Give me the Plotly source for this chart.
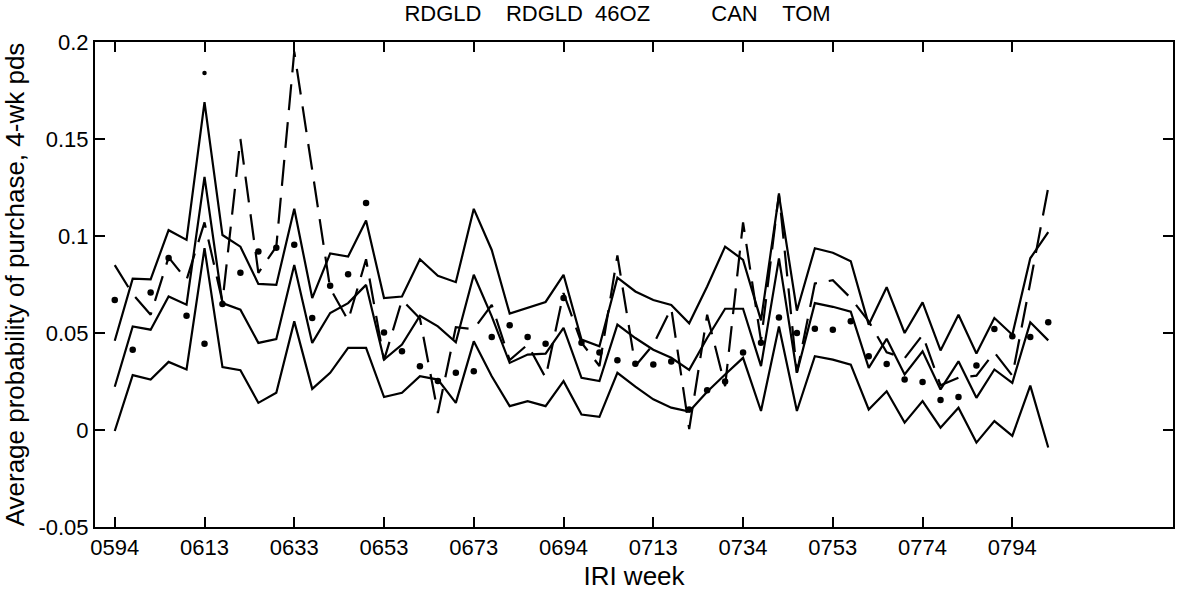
import plotly.graph_objects as go

# x positions: 4-week periods indexed 0..52
period_index = list(range(53))

tick_positions = [0, 5, 10, 15, 20, 25, 30, 35, 40, 45, 50]
tick_labels = ["0594", "0613", "0633", "0653", "0673", "0694",
               "0713", "0734", "0753", "0774", "0794"]

upper_band = [0.046, 0.078, 0.0777, 0.103, 0.098, 0.169, 0.1005, 0.0945, 0.0753, 0.0748,
              0.114, 0.068, 0.091, 0.0894, 0.108, 0.068, 0.0688, 0.088, 0.0795, 0.0762,
              0.114, 0.0928, 0.060, 0.063, 0.066, 0.080, 0.0466, 0.0432, 0.0785, 0.0714,
              0.067, 0.0645, 0.055, 0.074, 0.0945, 0.0877, 0.0565, 0.121, 0.0615, 0.0937,
              0.0914, 0.087, 0.0543, 0.0736, 0.050, 0.0658, 0.041, 0.0594, 0.0394, 0.0577,
              0.0491, 0.0885, 0.102]

middle_line = [0.0223, 0.0534, 0.0517, 0.0688, 0.0646, 0.1305, 0.0654, 0.062, 0.0449, 0.0469,
               0.085, 0.0449, 0.0603, 0.0654, 0.0748, 0.0363, 0.044, 0.0589, 0.0534, 0.0452,
               0.080, 0.0586, 0.0346, 0.0389, 0.0394, 0.0526, 0.0269, 0.0252, 0.0543, 0.0474,
               0.0414, 0.0372, 0.031, 0.0474, 0.0625, 0.0625, 0.0329, 0.0885, 0.0295, 0.0654,
               0.0635, 0.061, 0.032, 0.047, 0.0286, 0.0406, 0.0209, 0.0354, 0.0166, 0.0312,
               0.0243, 0.0555, 0.0462]

lower_band = [-0.0005, 0.0283, 0.026, 0.0351, 0.0312, 0.0937, 0.0324, 0.0308, 0.014, 0.0192,
              0.056, 0.0212, 0.0295, 0.0423, 0.0423, 0.017, 0.0192, 0.0277, 0.026, 0.014,
              0.0457, 0.0277, 0.0123, 0.0149, 0.0123, 0.0252, 0.008, 0.0068, 0.0295, 0.0223,
              0.0158, 0.0115, 0.0095, 0.0197, 0.0286, 0.0372, 0.0098, 0.0534, 0.0098, 0.038,
              0.0363, 0.0337, 0.0106, 0.020, 0.0038, 0.0149, 0.0012, 0.0115, -0.0065, 0.0046,
              -0.003, 0.0229, -0.009]

dashed_series = [0.085, 0.070, 0.0594, 0.089, 0.0774, 0.107, 0.066, 0.150, 0.081, 0.0945,
                 0.195, 0.135, 0.073, 0.0565, 0.088, 0.036, 0.067, 0.0575, 0.0088, 0.053,
                 0.052, 0.0645, 0.036, 0.044, 0.027, 0.0706, 0.045, 0.033, 0.090, 0.033,
                 0.044, 0.0628, 0.0005, 0.0594, 0.0226, 0.107, 0.046, 0.122, 0.0295, 0.0755,
                 0.0772, 0.068, 0.056, 0.040, 0.037, 0.049, 0.023, 0.027, 0.028, 0.040,
                 0.028, 0.076, 0.125]

dot_series = [0.067, 0.0414, 0.0709, 0.0886, 0.0589, 0.0445, 0.065, 0.081, 0.092, 0.094,
              0.0955, 0.0577, 0.0743, 0.0803, 0.117, 0.0503, 0.0406, 0.0329, 0.0252, 0.0295,
              0.0303, 0.048, 0.054, 0.048, 0.0445, 0.068, 0.045, 0.040, 0.036, 0.0342,
              0.0337, 0.0353, 0.0106, 0.0205, 0.025, 0.040, 0.045, 0.058, 0.050, 0.0522,
              0.0517, 0.056, 0.038, 0.034, 0.026, 0.0247, 0.0154, 0.017, 0.0332, 0.052,
              0.0483, 0.048, 0.0556]

extra_dot_index = [5]
extra_dot_value = [0.184]

y_tick_values = [-0.05, 0, 0.05, 0.1, 0.15, 0.2]
y_tick_labels = ["-0.05", "0", "0.05", "0.1", "0.15", "0.2"]

title_text = ("RDGLD" + "\u00a0" * 4 + "RDGLD" + "\u00a0" * 2 + "46OZ" +
              "\u00a0" * 10 + "CAN" + "\u00a0" * 4 + "TOM")

FONT = "Liberation Sans, Arial, sans-serif"
FS = 22

fig = go.Figure()
for series in (upper_band, middle_line, lower_band):
    fig.add_trace(go.Scatter(x=period_index, y=series, mode="lines",
                             line=dict(color="black", width=2.2), showlegend=False))
fig.add_trace(go.Scatter(x=period_index, y=dashed_series, mode="lines",
                         line=dict(color="black", width=2.2, dash="26px,12px"), showlegend=False))
fig.add_trace(go.Scatter(x=period_index, y=dot_series, mode="markers",
                         marker=dict(color="black", size=6.5), showlegend=False))
fig.add_trace(go.Scatter(x=extra_dot_index, y=extra_dot_value, mode="markers",
                         marker=dict(color="black", size=4.5), showlegend=False))

fig.update_layout(
    width=1179, height=591,
    margin=dict(l=95, r=4, t=42, b=63),
    paper_bgcolor="white", plot_bgcolor="white",
    font=dict(family=FONT, size=FS, color="black"),
    title=dict(text=title_text, x=(405 - 95) / 1080, xref="paper", xanchor="left",
               y=1 - 13 / 591, yref="container", yanchor="middle",
               font=dict(family=FONT, size=FS, color="black")),
    xaxis=dict(range=[-1.1, 58.95], tickmode="array", tickvals=tick_positions,
               ticktext=tick_labels, ticks="inside", ticklen=10, tickwidth=1.5,
               tickcolor="black", showline=True, linecolor="black", linewidth=2,
               mirror="allticks", showgrid=False, zeroline=False,
               title=dict(text="IRI week", standoff=8),
               tickfont=dict(family=FONT, size=FS)),
    yaxis=dict(range=[-0.05, 0.2], tickmode="array", tickvals=y_tick_values,
               ticktext=y_tick_labels, ticks="inside", ticklen=10, tickwidth=1.5,
               tickcolor="black", showline=True, linecolor="black", linewidth=2,
               mirror="allticks", showgrid=False, zeroline=False,
               title=dict(text="Average probability of purchase, 4-wk pds", standoff=6),
               tickfont=dict(family=FONT, size=FS)),
)

fig.write_html("out.html")
